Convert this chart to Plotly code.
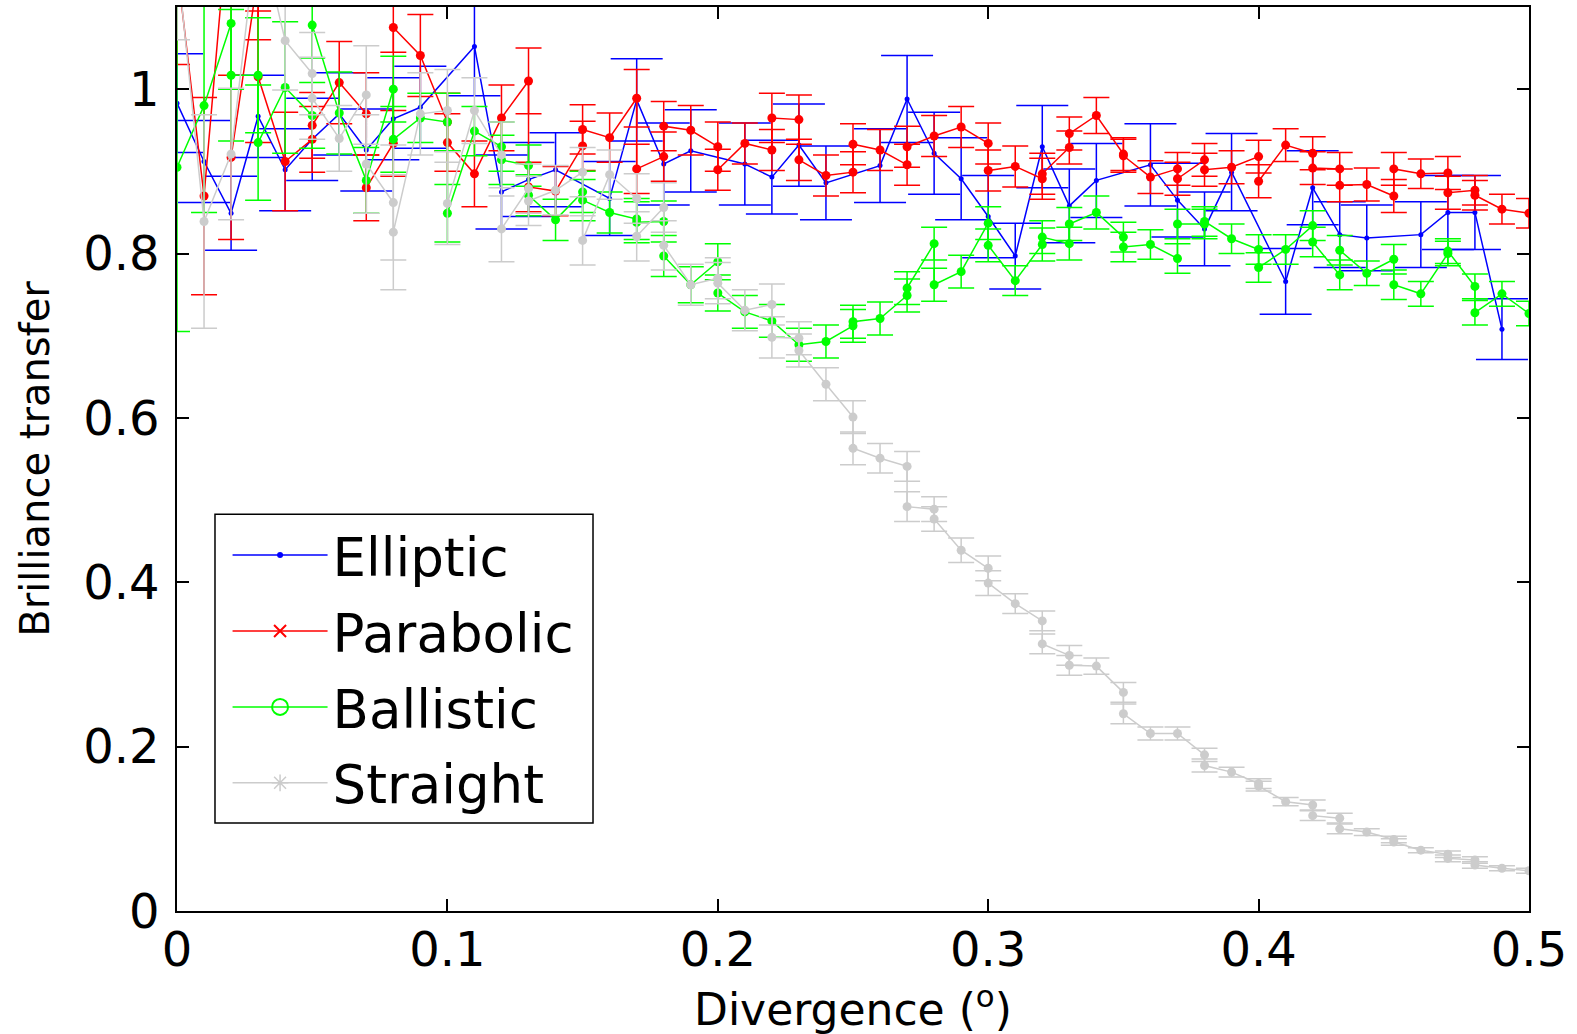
import plotly.graph_objects as go

# ---------------- data ----------------
blue_x = [0.00,0.01,0.02,0.03,0.04,0.05,0.06,0.07,0.08,0.09,
          0.11,0.12,0.13,0.14,0.16,0.17,0.18,0.19,0.21,0.22,
          0.23,0.24,0.26,0.27,0.28,0.29,0.30,0.31,0.32,0.33,
          0.34,0.36,0.37,0.38,0.39,0.41,0.42,0.43,0.44,0.46,
          0.47,0.48,0.49]
blue_y = [0.983,0.912,0.849,0.967,0.902,0.939,0.970,0.926,0.964,0.978,
          1.052,0.875,0.890,0.902,0.867,0.987,0.909,0.925,0.909,0.893,
          0.932,0.886,0.907,0.988,0.922,0.891,0.845,0.797,0.930,0.858,
          0.889,0.908,0.865,0.830,0.899,0.766,0.880,0.823,0.819,0.823,
          0.850,0.850,0.708]
blue_err = [0.06,0.05,0.045,0.05,0.05,0.05,0.05,0.05,0.05,0.05,
            0.06,0.045,0.045,0.045,0.045,0.05,0.05,0.05,0.05,0.045,
            0.05,0.045,0.045,0.053,0.05,0.05,0.05,0.04,0.05,0.045,
            0.045,0.05,0.045,0.045,0.047,0.04,0.045,0.04,0.04,0.04,
            0.045,0.045,0.037]

red_x = [0.00,0.01,0.02,0.02,0.03,0.03,0.04,0.05,0.05,0.06,
         0.07,0.07,0.08,0.08,0.09,0.10,0.10,0.11,0.12,0.13,
         0.13,0.14,0.15,0.15,0.16,0.17,0.17,0.18,0.18,0.19,
         0.20,0.20,0.21,0.22,0.22,0.23,0.23,0.24,0.25,0.25,
         0.26,0.27,0.27,0.28,0.29,0.30,0.30,0.31,0.32,0.32,
         0.33,0.33,0.34,0.35,0.35,0.36,0.37,0.37,0.38,0.38,
         0.39,0.40,0.40,0.41,0.42,0.42,0.43,0.43,0.44,0.45,
         0.45,0.46,0.47,0.47,0.48,0.48,0.49,0.50]
red_y = [1.15,0.870,1.25,0.917,1.14,1.015,0.912,0.939,0.956,1.008,
         0.970,0.880,0.934,1.075,1.041,0.960,0.935,0.897,0.965,1.010,
         0.881,0.876,0.931,0.951,0.941,0.989,0.903,0.918,0.955,0.950,
         0.930,0.902,0.934,0.926,0.965,0.963,0.914,0.895,0.899,0.933,
         0.926,0.908,0.930,0.943,0.954,0.934,0.901,0.906,0.891,0.897,
         0.929,0.946,0.968,0.921,0.919,0.893,0.903,0.891,0.914,0.902,
         0.905,0.918,0.888,0.932,0.922,0.904,0.903,0.883,0.884,0.870,
         0.903,0.897,0.898,0.874,0.877,0.871,0.854,0.849]
red_err = [0.12,0.12,0.10,0.10,0.08,0.08,0.06,0.04,0.04,0.05,
           0.05,0.04,0.04,0.03,0.05,0.035,0.035,0.04,0.04,0.04,
           0.03,0.03,0.03,0.03,0.03,0.035,0.03,0.03,0.03,0.03,
           0.03,0.025,0.025,0.025,0.03,0.03,0.025,0.025,0.025,0.025,
           0.025,0.025,0.025,0.025,0.025,0.025,0.025,0.025,0.025,0.025,
           0.02,0.02,0.022,0.02,0.02,0.02,0.02,0.02,0.02,0.02,
           0.02,0.02,0.02,0.02,0.02,0.02,0.02,0.02,0.02,0.02,
           0.02,0.018,0.02,0.02,0.018,0.018,0.018,0.018]

green_x = [0.00,0.01,0.02,0.02,0.03,0.03,0.04,0.05,0.05,0.06,
           0.07,0.08,0.08,0.09,0.10,0.10,0.11,0.12,0.12,0.13,
           0.13,0.14,0.15,0.15,0.16,0.17,0.17,0.18,0.18,0.19,
           0.20,0.20,0.21,0.22,0.23,0.24,0.25,0.25,0.26,0.27,
           0.27,0.28,0.28,0.29,0.30,0.30,0.31,0.32,0.32,0.33,
           0.33,0.34,0.35,0.35,0.36,0.37,0.37,0.38,0.38,0.39,
           0.40,0.40,0.41,0.42,0.42,0.43,0.43,0.44,0.45,0.45,
           0.46,0.47,0.47,0.48,0.48,0.49,0.50]
green_y = [0.905,0.980,1.080,1.017,1.017,0.935,1.002,0.968,1.078,0.971,
           0.889,1.000,0.939,0.965,0.960,0.849,0.949,0.930,0.914,0.907,
           0.871,0.841,0.875,0.865,0.850,0.842,0.838,0.839,0.797,0.762,
           0.790,0.752,0.729,0.718,0.689,0.693,0.712,0.717,0.721,0.749,
           0.758,0.812,0.762,0.778,0.837,0.810,0.767,0.811,0.820,0.812,
           0.836,0.850,0.820,0.808,0.811,0.794,0.836,0.836,0.839,0.818,
           0.805,0.783,0.805,0.834,0.814,0.774,0.804,0.776,0.793,0.762,
           0.751,0.800,0.803,0.760,0.728,0.751,0.727]
green_err = [0.20,0.13,0.08,0.08,0.07,0.07,0.08,0.04,0.04,0.05,
             0.04,0.04,0.04,0.03,0.035,0.035,0.03,0.03,0.03,0.025,
             0.025,0.025,0.025,0.025,0.025,0.025,0.025,0.025,0.025,0.022,
             0.022,0.022,0.02,0.02,0.02,0.02,0.02,0.02,0.02,0.02,
             0.02,0.02,0.02,0.02,0.02,0.02,0.018,0.02,0.02,0.02,
             0.02,0.02,0.018,0.018,0.018,0.018,0.018,0.018,0.018,0.018,
             0.018,0.018,0.018,0.018,0.018,0.018,0.018,0.015,0.018,0.018,
             0.015,0.015,0.015,0.015,0.015,0.015,0.015]

gray_x = [0.00,0.01,0.02,0.03,0.04,0.05,0.05,0.06,0.07,0.07,
          0.08,0.08,0.09,0.10,0.10,0.11,0.12,0.12,0.13,0.13,
          0.14,0.15,0.15,0.16,0.17,0.17,0.18,0.18,0.19,0.20,
          0.20,0.21,0.22,0.22,0.23,0.23,0.24,0.25,0.25,0.26,
          0.27,0.27,0.28,0.28,0.29,0.30,0.30,0.31,0.32,0.32,
          0.33,0.33,0.34,0.35,0.35,0.36,0.37,0.38,0.38,0.39,
          0.40,0.40,0.41,0.42,0.42,0.43,0.43,0.44,0.45,0.45,
          0.46,0.47,0.47,0.48,0.48,0.49,0.50]
gray_y = [1.16,0.839,0.921,1.20,1.059,1.019,0.989,0.940,0.993,0.909,
          0.862,0.826,0.970,0.974,0.861,0.974,0.920,0.830,0.879,0.864,
          0.877,0.899,0.816,0.896,0.867,0.821,0.856,0.810,0.762,0.770,
          0.764,0.731,0.738,0.698,0.697,0.682,0.641,0.601,0.563,0.551,
          0.541,0.492,0.489,0.477,0.439,0.417,0.399,0.374,0.353,0.325,
          0.311,0.299,0.298,0.266,0.240,0.216,0.216,0.190,0.177,0.169,
          0.155,0.152,0.133,0.129,0.116,0.113,0.100,0.096,0.087,0.084,
          0.074,0.069,0.064,0.062,0.056,0.052,0.049]
gray_err = [0.10,0.13,0.08,0.08,0.06,0.05,0.05,0.04,0.06,0.06,
            0.07,0.07,0.05,0.05,0.05,0.04,0.04,0.04,0.03,0.03,
            0.03,0.03,0.03,0.03,0.03,0.03,0.03,0.03,0.025,0.025,
            0.025,0.025,0.025,0.025,0.02,0.02,0.02,0.02,0.02,0.018,
            0.018,0.018,0.015,0.015,0.015,0.015,0.015,0.012,0.012,0.012,
            0.012,0.012,0.01,0.012,0.012,0.008,0.008,0.008,0.008,0.006,
            0.006,0.006,0.005,0.006,0.006,0.006,0.006,0.004,0.004,0.004,
            0.003,0.004,0.004,0.004,0.004,0.003,0.003]

series_names = ["Elliptic", "Parabolic", "Ballistic", "Straight"]
x_title = "Divergence (<sup>o</sup>)"
y_title = "Brilliance transfer"

# ---------------- styles ----------------
BLUE, RED, GREEN, GRAY = "#0000ff", "#ff0000", "#00ff00", "#cccccc"
FONT = "DejaVu Sans, Liberation Sans, Arial, sans-serif"

fig = go.Figure()

def add_series(x, y, err, color, msize, capw):
    fig.add_trace(go.Scatter(
        x=x, y=y, mode="lines+markers", showlegend=False,
        line=dict(color=color, width=1.5),
        marker=dict(color=color, size=msize, symbol="circle"),
        error_y=dict(type="data", array=err, visible=True,
                     color=color, thickness=1.5, width=capw),
        cliponaxis=True,
    ))

add_series(blue_x, blue_y, blue_err, BLUE, 5, 26)
add_series(red_x, red_y, red_err, RED, 9, 13)
add_series(green_x, green_y, green_err, GREEN, 9, 13)
add_series(gray_x, gray_y, gray_err, GRAY, 9, 13)

# legend entries (markers as in the original legend)
legend_styles = [
    (BLUE, "circle", 6, 0),
    (RED, "x-thin-open", 12, 2),
    (GREEN, "circle-open", 16, 2),
    (GRAY, "asterisk-open", 14, 1.5),
]
for i, (name, (c, sym, sz, lw)) in enumerate(zip(series_names, legend_styles)):
    fig.add_trace(go.Scatter(
        x=[None], y=[None], mode="lines+markers", name=name,
        legendgroup=f"g{i}",
        line=dict(color=c, width=1.5),
        marker=dict(color=c, symbol=sym, size=sz, line=dict(color=c, width=lw)),
    ))

axis_common = dict(
    showline=True, linecolor="black", linewidth=1.5, mirror="ticks",
    ticks="inside", ticklen=12, tickwidth=1.5, tickcolor="black",
    showgrid=False, zeroline=False, automargin=False,
    tickfont=dict(family=FONT, size=48, color="black"),
)

# legend frame (drawn as a shape so the legend can have MATLAB-like padding)
fig.add_shape(type="rect", xref="paper", yref="paper",
              x0=0.0281, x1=0.3077, y0=0.0973, y1=0.439,
              line=dict(color="black", width=1.5), fillcolor="white",
              layer="below")

# x-axis title placed as an annotation so it can sit near the bottom edge
fig.add_annotation(text=x_title, xref="paper", yref="paper",
                   x=0.5, y=0, xanchor="center", yanchor="middle",
                   yshift=-95, showarrow=False,
                   font=dict(family=FONT, size=44, color="black"))

fig.update_layout(
    width=1577, height=1034,
    margin=dict(l=177, r=48, t=7, b=123),
    paper_bgcolor="white", plot_bgcolor="white",
    xaxis=dict(range=[0, 0.5], tickvals=[0, 0.1, 0.2, 0.3, 0.4, 0.5],
               ticktext=["0", "0.1", "0.2", "0.3", "0.4", "0.5"],
               ticklabelstandoff=-4,
               **axis_common),
    yaxis=dict(range=[0, 1.1], tickvals=[0, 0.2, 0.4, 0.6, 0.8, 1.0],
               ticktext=["0", "0.2", "0.4", "0.6", "0.8", "1"],
               ticklabelstandoff=6,
               title=dict(text=y_title,
                          font=dict(family=FONT, size=40, color="black"),
                          standoff=21),
               **axis_common),
    legend=dict(x=0.0374, y=0.439, xanchor="left", yanchor="top",
                bgcolor="rgba(0,0,0,0)", borderwidth=0,
                font=dict(family=FONT, size=53, color="black"),
                itemwidth=95, tracegroupgap=4, traceorder="grouped"),
    showlegend=True,
)

fig.write_html("out.html")
